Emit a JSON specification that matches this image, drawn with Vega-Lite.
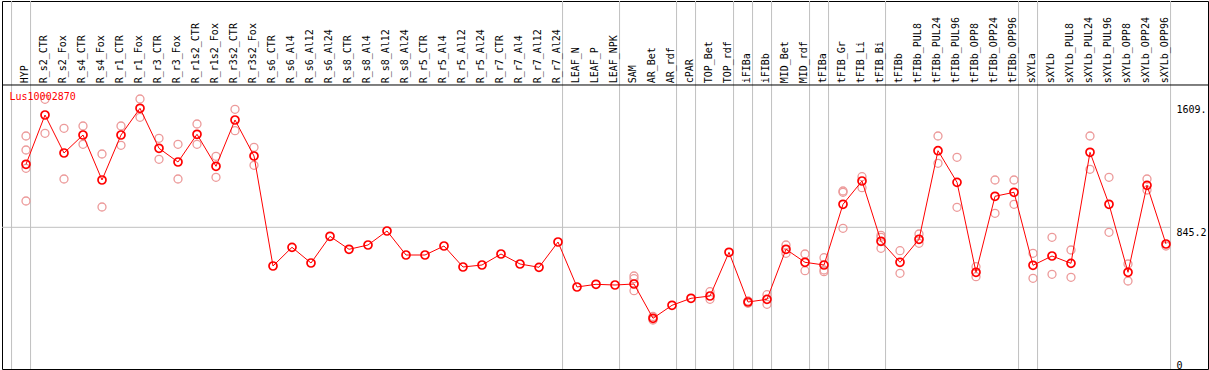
{
  "$schema": "https://vega.github.io/schema/vega-lite/v6.json",
  "width": 1206,
  "height": 368,
  "autosize": "none",
  "padding": {"left": 2, "top": 1, "right": 1, "bottom": 1},
  "background": "white",
  "config": {
    "view": {"stroke": "black", "strokeWidth": 1},
    "text": {"font": "DejaVu Sans Mono", "fontSize": 10}
  },
  "datasets": {
    "means": [
      {"i": 0, "name": "HYP", "v": 1246.5},
      {"i": 1, "name": "R_s2_CTR", "v": 1560.5},
      {"i": 2, "name": "R_s2_Fox", "v": 1318.5},
      {"i": 3, "name": "R_s4_CTR", "v": 1433.1},
      {"i": 4, "name": "R_s4_Fox", "v": 1146.5},
      {"i": 5, "name": "R_r1_CTR", "v": 1433.1},
      {"i": 6, "name": "R_r1_Fox", "v": 1603.2},
      {"i": 7, "name": "R_r3_CTR", "v": 1348.4},
      {"i": 8, "name": "R_r3_Fox", "v": 1261.1},
      {"i": 9, "name": "R_r1s2_CTR", "v": 1437.6},
      {"i": 10, "name": "R_r1s2_Fox", "v": 1233.8},
      {"i": 11, "name": "R_r3s2_CTR", "v": 1528.7},
      {"i": 12, "name": "R_r3s2_Fox", "v": 1299.4},
      {"i": 13, "name": "R_s6_CTR", "v": 598.7},
      {"i": 14, "name": "R_s6_Al4", "v": 717.8},
      {"i": 15, "name": "R_s6_Al12", "v": 617.8},
      {"i": 16, "name": "R_s6_Al24", "v": 787.9},
      {"i": 17, "name": "R_s8_CTR", "v": 705.1},
      {"i": 18, "name": "R_s8_Al4", "v": 732.5},
      {"i": 19, "name": "R_s8_Al12", "v": 821.7},
      {"i": 20, "name": "R_s8_Al24", "v": 668.8},
      {"i": 21, "name": "R_r5_CTR", "v": 668.8},
      {"i": 22, "name": "R_r5_Al4", "v": 726.1},
      {"i": 23, "name": "R_r5_Al12", "v": 592.4},
      {"i": 24, "name": "R_r5_Al24", "v": 605.1},
      {"i": 25, "name": "R_r7_CTR", "v": 675.2},
      {"i": 26, "name": "R_r7_Al4", "v": 611.5},
      {"i": 27, "name": "R_r7_Al12", "v": 590.4},
      {"i": 28, "name": "R_r7_Al24", "v": 751.6},
      {"i": 29, "name": "LEAF_N", "v": 465.0},
      {"i": 30, "name": "LEAF_P", "v": 482.2},
      {"i": 31, "name": "LEAF_NPK", "v": 477.7},
      {"i": 32, "name": "SAM", "v": 484.1},
      {"i": 33, "name": "AR_Bet", "v": 265.6},
      {"i": 34, "name": "AR_rdf", "v": 348.4},
      {"i": 35, "name": "cPAR", "v": 393.0},
      {"i": 36, "name": "TOP_Bet", "v": 407.6},
      {"i": 37, "name": "TOP_rdf", "v": 686.0},
      {"i": 38, "name": "iFIBa", "v": 369.4},
      {"i": 39, "name": "iFIBb", "v": 386.6},
      {"i": 40, "name": "MID_Bet", "v": 705.1},
      {"i": 41, "name": "MID_rdf", "v": 622.3},
      {"i": 42, "name": "tFIBa", "v": 605.1},
      {"i": 43, "name": "tFIB_Gr", "v": 991.7},
      {"i": 44, "name": "tFIB_Li", "v": 1140.1},
      {"i": 45, "name": "tFIB_Bi", "v": 756.1},
      {"i": 46, "name": "tFIBb", "v": 622.3},
      {"i": 47, "name": "tFIBb_PUL8", "v": 768.8},
      {"i": 48, "name": "tFIBb_PUL24", "v": 1333.1},
      {"i": 49, "name": "tFIBb_PUL96", "v": 1131.8},
      {"i": 50, "name": "tFIBb_OPP8", "v": 558.6},
      {"i": 51, "name": "tFIBb_OPP24", "v": 1042.7},
      {"i": 52, "name": "tFIBb_OPP96", "v": 1068.2},
      {"i": 53, "name": "sXYLa", "v": 603.2},
      {"i": 54, "name": "sXYLb", "v": 662.4},
      {"i": 55, "name": "sXYLb_PUL8", "v": 615.9},
      {"i": 56, "name": "sXYLb_PUL24", "v": 1322.9},
      {"i": 57, "name": "sXYLb_PUL96", "v": 991.7},
      {"i": 58, "name": "sXYLb_OPP8", "v": 558.6},
      {"i": 59, "name": "sXYLb_OPP24", "v": 1112.7},
      {"i": 60, "name": "sXYLb_OPP96", "v": 738.9}
    ],
    "reps": [
      {"i": 0, "v": 1426.8}, {"i": 0, "v": 1337.6}, {"i": 0, "v": 1221.0}, {"i": 0, "v": 1012.7},
      {"i": 1, "v": 1660.5}, {"i": 1, "v": 1443.9},
      {"i": 2, "v": 1475.8}, {"i": 2, "v": 1152.9},
      {"i": 3, "v": 1490.4}, {"i": 3, "v": 1373.9},
      {"i": 4, "v": 1312.1}, {"i": 4, "v": 974.5},
      {"i": 5, "v": 1490.4}, {"i": 5, "v": 1367.5},
      {"i": 6, "v": 1662.4}, {"i": 6, "v": 1545.9},
      {"i": 7, "v": 1412.1}, {"i": 7, "v": 1278.3},
      {"i": 8, "v": 1373.9}, {"i": 8, "v": 1152.9},
      {"i": 9, "v": 1503.2}, {"i": 9, "v": 1373.9},
      {"i": 10, "v": 1297.5}, {"i": 10, "v": 1163.7},
      {"i": 11, "v": 1596.8}, {"i": 11, "v": 1460.5},
      {"i": 12, "v": 1354.8}, {"i": 12, "v": 1240.1},
      {"i": 32, "v": 535.0}, {"i": 32, "v": 517.8}, {"i": 32, "v": 441.4},
      {"i": 33, "v": 277.0}, {"i": 33, "v": 254.8},
      {"i": 36, "v": 435.0}, {"i": 36, "v": 386.6},
      {"i": 38, "v": 361.1}, {"i": 38, "v": 375.8},
      {"i": 39, "v": 415.9}, {"i": 39, "v": 354.8},
      {"i": 40, "v": 732.5}, {"i": 40, "v": 679.6},
      {"i": 41, "v": 675.2}, {"i": 41, "v": 568.8},
      {"i": 42, "v": 651.6}, {"i": 42, "v": 573.2}, {"i": 42, "v": 562.4},
      {"i": 43, "v": 1076.4}, {"i": 43, "v": 1068.2}, {"i": 43, "v": 838.9},
      {"i": 44, "v": 1167.5}, {"i": 44, "v": 1097.5},
      {"i": 45, "v": 794.3}, {"i": 45, "v": 781.5}, {"i": 45, "v": 711.5},
      {"i": 46, "v": 696.2}, {"i": 46, "v": 552.2},
      {"i": 47, "v": 802.5}, {"i": 47, "v": 743.3},
      {"i": 48, "v": 1426.8}, {"i": 48, "v": 1252.9},
      {"i": 49, "v": 1291.1}, {"i": 49, "v": 972.6},
      {"i": 50, "v": 594.3}, {"i": 50, "v": 530.6},
      {"i": 51, "v": 1146.5}, {"i": 51, "v": 934.4},
      {"i": 52, "v": 1146.5}, {"i": 52, "v": 991.7},
      {"i": 53, "v": 679.6}, {"i": 53, "v": 520.4},
      {"i": 54, "v": 781.5}, {"i": 54, "v": 545.9},
      {"i": 55, "v": 700.6}, {"i": 55, "v": 526.8},
      {"i": 56, "v": 1426.8}, {"i": 56, "v": 1214.6},
      {"i": 57, "v": 1163.7}, {"i": 57, "v": 813.4},
      {"i": 58, "v": 611.5}, {"i": 58, "v": 503.2},
      {"i": 59, "v": 1152.9}, {"i": 59, "v": 1082.8},
      {"i": 60, "v": 726.1}
    ],
    "seps": [
      {"s": -0.76}, {"s": 0.24}, {"s": 28.24}, {"s": 31.24}, {"s": 34.24},
      {"s": 35.24}, {"s": 37.24}, {"s": 38.24}, {"s": 39.24}, {"s": 41.24},
      {"s": 42.24}, {"s": 45.24}, {"s": 52.24}, {"s": 53.24}, {"s": 60.24}
    ]
  },
  "encoding": {
    "x": {"type": "quantitative", "scale": {"domain": [-1.2632, 62.2105], "nice": false, "zero": false}, "axis": null}
  },
  "layer": [
    {
      "data": {"name": "seps"},
      "mark": {"type": "rule", "color": "#c0c0c0", "strokeWidth": 1},
      "encoding": {"x": {"field": "s", "type": "quantitative"}}
    },
    {
      "data": {"values": [{}]},
      "mark": {"type": "rule", "color": "#c0c0c0", "strokeWidth": 1},
      "encoding": {
        "x": {"datum": -1.2632, "type": "quantitative"},
        "x2": {"datum": 60.24},
        "y": {"datum": 845.2, "type": "quantitative", "scale": {"domain": [-57.3, 2286.6], "nice": false, "zero": false},
          "axis": {"orient": "right", "offset": -32, "values": [0, 845.2, 1609], "labelExpr": "datum.value == 1609 ? '1609.' : datum.value == 845.2 ? '845.2' : '0'", "grid": false, "domain": false, "ticks": false, "labelAlign": "left", "labelBaseline": "top", "labelPadding": 0, "labelOffset": {"condition": {"test": "datum.value == 1609", "value": -3}, "value": 0}, "labelFont": "DejaVu Sans Mono", "labelFontSize": 10, "labelColor": "black", "title": null, "labelFlush": false, "labelBound": false, "labelOverlap": false}}
      }
    },
    {
      "data": {"values": [{}]},
      "mark": {"type": "rule", "color": "black", "strokeWidth": 1},
      "encoding": {"y": {"datum": 1751.6, "type": "quantitative"}}
    },
    {
      "data": {"name": "reps"},
      "mark": {"type": "point", "filled": false, "color": "#ec9a9a", "strokeWidth": 1.3, "size": 64, "opacity": 1},
      "encoding": {
        "x": {"field": "i", "type": "quantitative"},
        "y": {"field": "v", "type": "quantitative"}
      }
    },
    {
      "data": {"name": "means"},
      "mark": {"type": "line", "color": "#ff0000", "strokeWidth": 1},
      "encoding": {
        "x": {"field": "i", "type": "quantitative"},
        "y": {"field": "v", "type": "quantitative"}
      }
    },
    {
      "data": {"name": "means"},
      "mark": {"type": "point", "filled": false, "color": "#ff0000", "strokeWidth": 1.7, "size": 64, "opacity": 1},
      "encoding": {
        "x": {"field": "i", "type": "quantitative"},
        "y": {"field": "v", "type": "quantitative"}
      }
    },
    {
      "data": {"name": "means"},
      "mark": {"type": "text", "angle": 270, "align": "left", "baseline": "middle", "dy": -1, "color": "black", "font": "DejaVu Sans Mono", "fontSize": 10},
      "encoding": {
        "x": {"field": "i", "type": "quantitative"},
        "y": {"datum": 1762.4, "type": "quantitative"},
        "text": {"field": "name"}
      }
    },
    {
      "data": {"values": [{"gene": "Lus10002870"}]},
      "mark": {"type": "text", "align": "left", "baseline": "top", "color": "#ff0000", "font": "DejaVu Sans Mono", "fontSize": 10},
      "encoding": {
        "x": {"datum": -0.868, "type": "quantitative"},
        "y": {"datum": 1707, "type": "quantitative"},
        "text": {"field": "gene"}
      }
    }
  ]
}
